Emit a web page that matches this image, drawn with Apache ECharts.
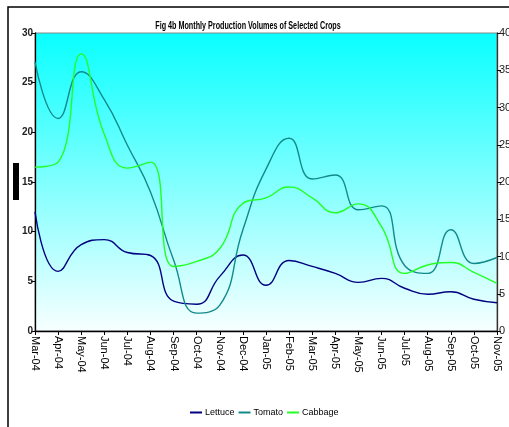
<!DOCTYPE html>
<html>
<head>
<meta charset="utf-8">
<script src="https://cdn.jsdelivr.net/npm/echarts@6/dist/echarts.min.js"></script>
<style>
  html, body { margin: 0; padding: 0; background: #fff; }
  #chart { width: 509px; height: 427px; }
</style>
</head>
<body>
<div id="chart"></div>
<script>
// monthly production volumes
const months = ['Mar-04','Apr-04','May-04','Jun-04','Jul-04','Aug-04','Sep-04','Oct-04','Nov-04','Dec-04','Jan-05',
  'Feb-05','Mar-05','Apr-05','May-05','Jun-05','Jul-05','Aug-05','Sep-05','Oct-05','Nov-05']
const lettuce = [12.0, 6.0, 8.7, 9.2, 7.9, 7.6, 3.0, 2.7, 5.5, 7.65, 4.6, 7.1, 6.5, 5.8, 4.9, 5.3, 4.3, 3.7, 3.95, 3.2, 2.85]
const tomato = [27.1, 21.4, 26.1, 23.3, 18.7, 14.0, 7.15, 1.8, 2.6, 10.2, 16.3, 19.4, 15.3, 15.7, 12.2, 12.6, 6.6, 5.8, 10.2, 6.8, 7.4]
const cabbage = [16.5, 17.0, 27.9, 19.8, 16.4, 17.0, 6.5, 7.0, 8.3, 12.85, 13.4, 14.5, 13.4, 11.9, 12.8, 10.5, 5.8, 6.65, 6.9, 5.9, 4.8]
const leftTicks = [0, 5, 10, 15, 20, 25, 30]
const rightTicks = [0, 5, 10, 15, 20, 25, 30, 35, 40]

const chart = echarts.init(document.getElementById('chart'))

const lineSeries = function (name, data, color) {
  return {
    name: name,
    type: 'line',
    data: data,
    smooth: 0.5,
    symbol: 'none',
    lineStyle: { color: color, width: 1.4 },
    itemStyle: { color: color }
  }
}

chart.setOption({
  animation: false,
  graphic: [
    // outer chart frame
    { type: 'rect', shape: { x: 8, y: 7, width: 520, height: 440 }, style: { fill: 'none', stroke: '#000', lineWidth: 1.5 }, z: 0 },
    // squashed axis title
    { type: 'rect', shape: { x: 13, y: 163, width: 6, height: 37 }, style: { fill: '#000' } },
    {
      type: 'text', x: 248, y: 21, scaleX: 0.72,
      style: { text: 'Fig 4b Monthly Production Volumes of Selected Crops', font: 'bold 10px "Liberation Sans"', fill: '#000', textAlign: 'center', textVerticalAlign: 'top' }
    }
  ],
  grid: {
    left: 35, right: 12, top: 33, bottom: 96,
    outerBoundsMode: 'none',
    show: true,
    borderColor: '#888',
    borderWidth: 1,
    backgroundColor: new echarts.graphic.LinearGradient(0, 0, 0, 1, [
      { offset: 0, color: '#08ffff' },
      { offset: 1, color: '#f8ffff' }
    ])
  },
  legend: {
    left: 185, top: 403,
    icon: 'rect', itemWidth: 12, itemHeight: 2, itemGap: 4,
    textStyle: { fontFamily: 'Liberation Sans', fontSize: 9, color: '#000', width: 40, padding: [0, 0, 0, -2] },
    data: ['Lettuce', 'Tomato', 'Cabbage']
  },
  xAxis: {
    type: 'category',
    data: months,
    boundaryGap: false,
    axisLine: { lineStyle: { color: '#000', width: 1.3 } },
    axisTick: { alignWithLabel: true, length: 4, lineStyle: { color: '#000' } },
    axisLabel: { rotate: -90, fontFamily: 'Liberation Sans', fontSize: 11, color: '#000', margin: 5, interval: 0 }
  },
  yAxis: [
    {
      type: 'value', min: 0, max: 30, interval: 5,
      axisLine: { show: true, lineStyle: { color: '#000', width: 1.3 } },
      axisTick: { show: true, length: 4, lineStyle: { color: '#000' } },
      splitLine: { show: false },
      axisLabel: { fontFamily: 'Liberation Sans', fontWeight: 'bold', fontSize: 10, color: '#222', margin: 2,
        formatter: function (v) { return leftTicks.indexOf(v) >= 0 ? String(v) : '' } }
    },
    {
      type: 'value', min: 0, max: 40, interval: 5, position: 'right',
      axisLine: { show: true, lineStyle: { color: '#333', width: 1.3 } },
      axisTick: { show: true, length: 4, lineStyle: { color: '#000' } },
      splitLine: { show: false },
      axisLabel: { fontFamily: 'Liberation Sans', fontSize: 11, color: '#222', margin: 2,
        formatter: function (v) { return rightTicks.indexOf(v) >= 0 ? String(v) : '' } }
    }
  ],
  series: [
    lineSeries('Lettuce', lettuce, '#000080'),
    lineSeries('Tomato', tomato, '#138a8a'),
    lineSeries('Cabbage', cabbage, '#22ff22')
  ]
})
</script>
</body>
</html>
